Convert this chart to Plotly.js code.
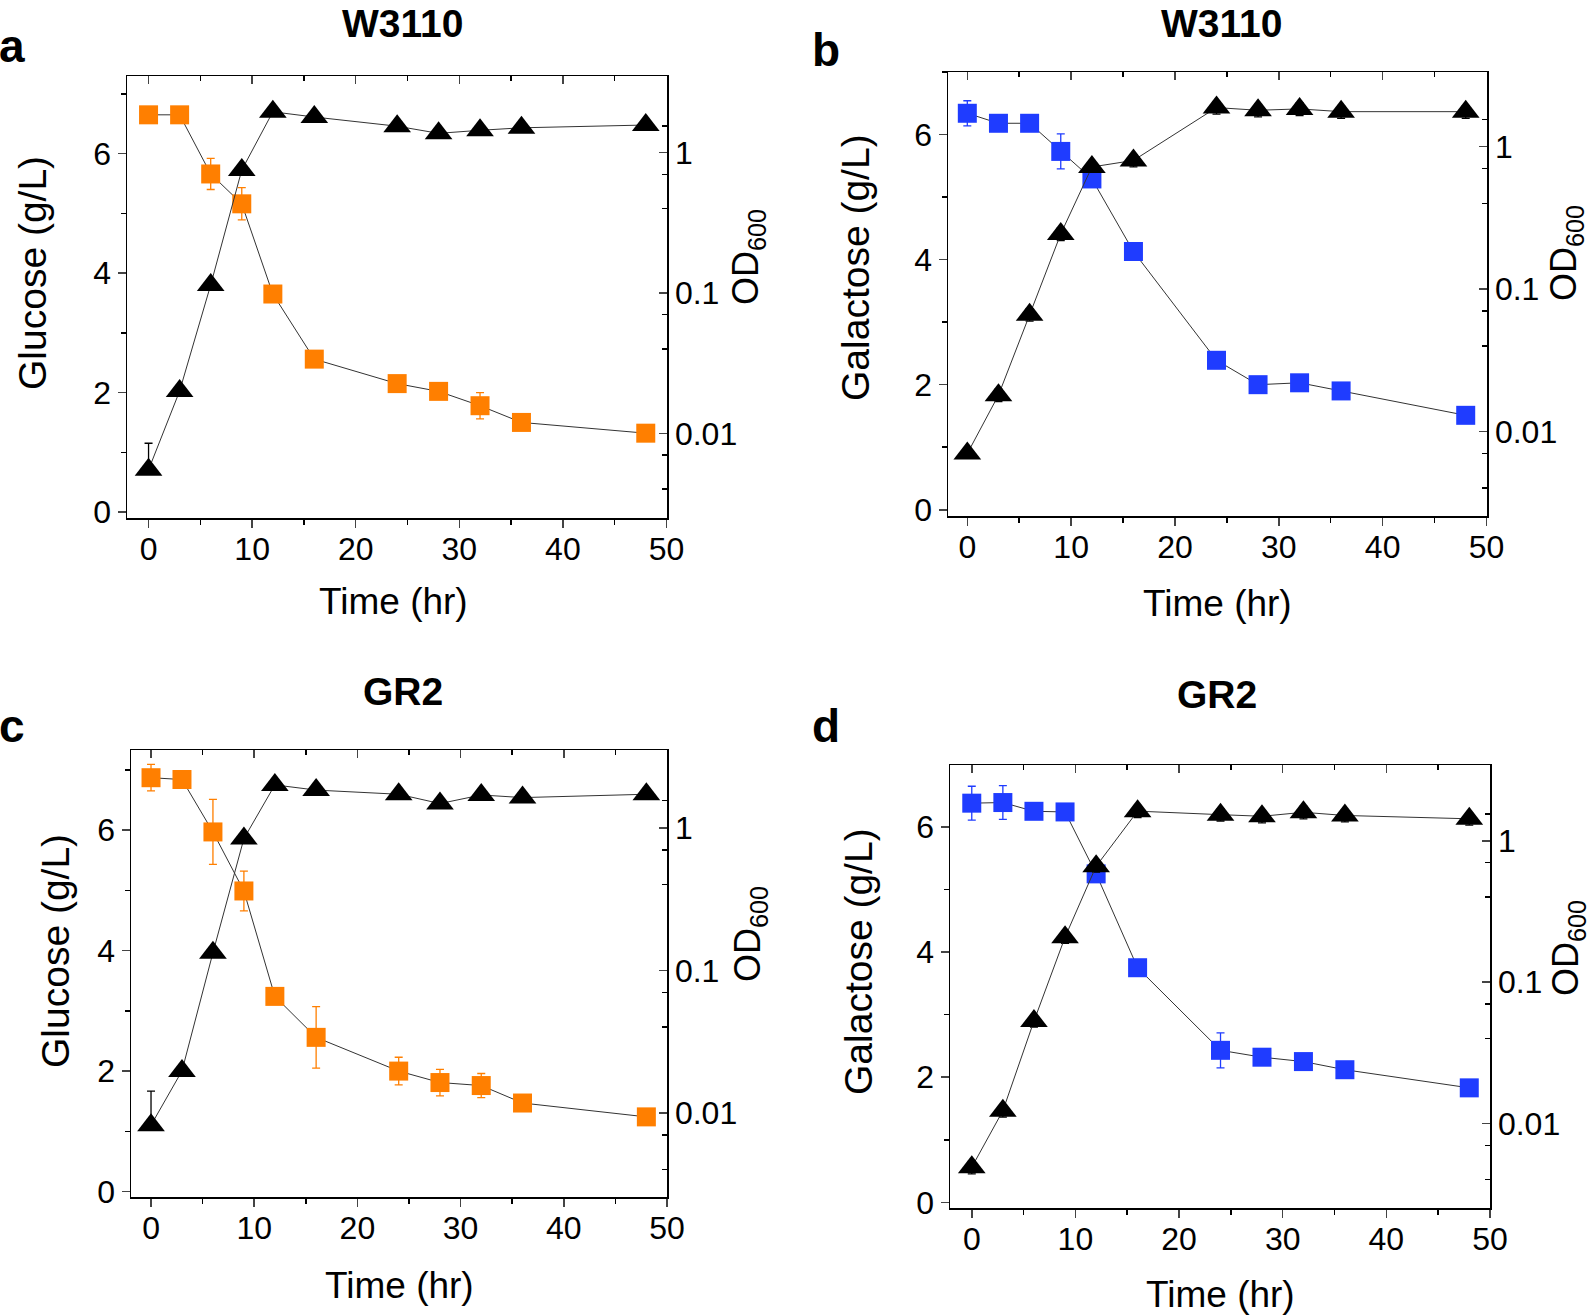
<!DOCTYPE html>
<html>
<head>
<meta charset="utf-8">
<script src="https://cdn.plot.ly/plotly-3.0.1.min.js"></script>
<style>
  html, body { margin: 0; padding: 0; background: #fff; }
  #chart { width: 1593px; height: 1316px; }
</style>
</head>
<body>
<div id="chart"></div>
<script>
// sampling times (hr), shared by all four panels
const hours = [0, 3, 6, 9, 12, 16, 24, 28, 32, 36, 48];

// a: W3110 on glucose
const glucoseW3110 = [6.65, 6.65, 5.66, 5.16, 3.65, 2.56, 2.15, 2.02, 1.78, 1.50, 1.32];
const glucoseW3110Err = [0.05, 0.05, 0.26, 0.27, 0.05, 0.07, 0.05, 0.05, 0.22, 0.08, 0.03];
const odGlucoseW3110 = [0.0055, 0.020, 0.114, 0.75, 1.95, 1.79, 1.54, 1.37, 1.44, 1.50, 1.57];
const odGlucoseW3110Up = [0.003, 0, 0, 0, 0, 0, 0, 0, 0, 0, 0];
const odGlucoseW3110Down = [0, 0, 0, 0, 0, 0, 0, 0, 0, 0, 0];

// b: W3110 on galactose
const galactoseW3110 = [6.34, 6.18, 6.18, 5.73, 5.29, 4.13, 2.39, 2.00, 2.03, 1.90, 1.51];
const galactoseW3110Err = [0.2, 0.05, 0.05, 0.28, 0.05, 0.05, 0.05, 0.05, 0.05, 0.05, 0.03];
const odGalactoseW3110 = [0.0070, 0.018, 0.066, 0.244, 0.72, 0.80, 1.88, 1.80, 1.84, 1.76, 1.76];
const odGalactoseW3110Err = [0, 0.0018, 0.0065, 0.025, 0.06, 0.08, 0.19, 0.18, 0.19, 0.18, 0.18];

// c: GR2 on glucose
const glucoseGR2 = [6.87, 6.84, 5.97, 4.99, 3.24, 2.56, 2.00, 1.81, 1.76, 1.47, 1.24];
const glucoseGR2Err = [0.22, 0.1, 0.54, 0.33, 0.06, 0.51, 0.23, 0.22, 0.2, 0.05, 0.05];
const odGlucoseGR2 = [0.0082, 0.0197, 0.133, 0.84, 2.0, 1.84, 1.72, 1.48, 1.70, 1.63, 1.72];
const odGlucoseGR2Up = [0.006, 0, 0, 0, 0, 0, 0, 0, 0, 0, 0];
const odGlucoseGR2Down = [0, 0, 0, 0, 0, 0, 0, 0, 0, 0, 0];

// d: GR2 on galactose
const galactoseGR2 = [6.38, 6.39, 6.25, 6.24, 5.25, 3.75, 2.43, 2.32, 2.25, 2.12, 1.83];
const galactoseGR2Err = [0.27, 0.27, 0.05, 0.05, 0.05, 0.05, 0.28, 0.05, 0.05, 0.05, 0.05];
const odGalactoseGR2 = [0.0049, 0.0123, 0.053, 0.208, 0.66, 1.62, 1.53, 1.49, 1.59, 1.51, 1.43];
const odGalactoseGR2Err = [0.0005, 0.0012, 0.005, 0.02, 0.06, 0.16, 0.15, 0.15, 0.16, 0.15, 0.14];

const W = 1593, H = 1316;
const ORANGE = '#ff7f00';
const BLUE = '#1f3cff';
const FONT = 'Liberation Sans, Arial, sans-serif';

const panels = [
  { letter: 'a', strain: 'W3110', sugarName: 'Glucose (g/L)', sugar: glucoseW3110, sugarErr: glucoseW3110Err,
    od: odGlucoseW3110, odUp: odGlucoseW3110Up, odDown: odGlucoseW3110Down, color: ORANGE,
    box: [127, 76, 667, 518], xr: [-2.08, 50.05], yr: [-0.1, 7.3], lr: [-2.603, 0.545],
    letterPos: [12, 46], titlePos: [403, 23], xtPos: [393, 602], ytPos: [33, 273], odPos: [748, 257] },
  { letter: 'b', strain: 'W3110', sugarName: 'Galactose (g/L)', sugar: galactoseW3110, sugarErr: galactoseW3110Err,
    od: odGalactoseW3110, odUp: odGalactoseW3110Err, odDown: odGalactoseW3110Err, color: BLUE,
    box: [948, 72, 1487, 516], xr: [-1.86, 50.05], yr: [-0.1, 7.0], lr: [-2.593, 0.524],
    letterPos: [826, 50], titlePos: [1221, 23], xtPos: [1217, 603], ytPos: [855, 268], odPos: [1566, 253] },
  { letter: 'c', strain: 'GR2', sugarName: 'Glucose (g/L)', sugar: glucoseGR2, sugarErr: glucoseGR2Err,
    od: odGlucoseGR2, odUp: odGlucoseGR2Up, odDown: odGlucoseGR2Down, color: ORANGE,
    box: [131, 750, 667, 1197], xr: [-1.94, 50.0], yr: [-0.09, 7.33], lr: [-2.59, 0.546],
    letterPos: [12, 726], titlePos: [403, 691], xtPos: [399, 1285], ytPos: [55, 951], odPos: [750, 934] },
  { letter: 'd', strain: 'GR2', sugarName: 'Galactose (g/L)', sugar: galactoseGR2, sugarErr: galactoseGR2Err,
    od: odGalactoseGR2, odUp: odGalactoseGR2Err, odDown: odGalactoseGR2Err, color: BLUE,
    box: [950, 765, 1490, 1208], xr: [-2.1, 50.0], yr: [-0.09, 6.99], lr: [-2.598, 0.536],
    letterPos: [826, 726], titlePos: [1217, 694], xtPos: [1220, 1294], ytPos: [858, 961], odPos: [1568, 948] }
];

const px = x => x / W;
const py = y => 1 - y / H;

const traces = [];
const layout = {
  width: W, height: H,
  margin: { l: 0, r: 0, t: 0, b: 0 },
  paper_bgcolor: '#fff', plot_bgcolor: 'rgba(0,0,0,0)',
  showlegend: false,
  font: { family: FONT, color: '#000' },
  annotations: []
};

const axisLine = { showline: true, linecolor: '#000', linewidth: 1.5, showgrid: false, zeroline: false };
const tickFont = { family: FONT, size: 32, color: '#000' };

panels.forEach((p, k) => {
  const i = k + 1;
  const xId = 'x' + i, yId = 'y' + i, topId = 'x' + (i + 4), logId = 'y' + (i + 4);
  const key = (a, n) => a + (n === 1 ? '' : n);
  const [x0, y0, x1, y1] = p.box;
  const xDom = [px(x0), px(x1)], yDom = [py(y1), py(y0)];

  layout[key('xaxis', i)] = Object.assign({}, axisLine, {
    domain: xDom, anchor: yId, range: p.xr,
    tickvals: [0, 10, 20, 30, 40, 50], ticks: 'outside', ticklen: 8, tickwidth: 1.5,
    minor: { dtick: 5, ticks: 'outside', ticklen: 5, tickwidth: 1.5, tickcolor: '#000' },
    tickfont: tickFont, ticklabelstandoff: -6
  });
  // top border with inward ticks
  layout[key('xaxis', i + 4)] = Object.assign({}, axisLine, {
    overlaying: xId, side: 'top', anchor: yId, range: p.xr,
    tickvals: [0, 10, 20, 30, 40, 50], ticks: 'inside', ticklen: 8, tickwidth: 1.5,
    minor: { dtick: 5, ticks: 'inside', ticklen: 5, tickwidth: 1.5, tickcolor: '#000' },
    showticklabels: false
  });
  layout[key('yaxis', i)] = Object.assign({}, axisLine, {
    domain: yDom, anchor: xId, range: p.yr,
    tickvals: [0, 2, 4, 6], ticks: 'outside', ticklen: 8, tickwidth: 1.5,
    minor: { dtick: 1, ticks: 'outside', ticklen: 5, tickwidth: 1.5, tickcolor: '#000' },
    tickfont: tickFont, ticklabelstandoff: 0
  });
  layout[key('yaxis', i + 4)] = Object.assign({}, axisLine, {
    overlaying: yId, side: 'right', anchor: xId, type: 'log', range: p.lr,
    tickvals: [0.01, 0.1, 1], ticktext: ['0.01', '0.1', '1'],
    ticks: 'inside', ticklen: 8, tickwidth: 1.5,
    minor: { tickvals: [0.004, 0.007, 0.04, 0.07, 0.4, 0.7, 1.55], ticks: 'inside', ticklen: 5, tickwidth: 1.5, tickcolor: '#000' },
    tickfont: tickFont, ticklabelstandoff: 0
  });

  // empty trace so the top axis is drawn
  traces.push({
    x: hours, y: p.sugar, xaxis: topId, yaxis: yId,
    type: 'scatter', mode: 'none', hoverinfo: 'skip'
  });
  // sugar (left axis)
  traces.push({
    x: hours, y: p.sugar, xaxis: xId, yaxis: yId,
    type: 'scatter', mode: 'lines+markers',
    line: { color: '#333', width: 1 },
    marker: { symbol: 'square', size: 19, color: p.color },
    error_y: { type: 'data', array: p.sugarErr, visible: true, color: p.color, thickness: 1.3, width: 4 }
  });
  // OD600 (right log axis)
  traces.push({
    x: hours, y: p.od, xaxis: xId, yaxis: logId,
    type: 'scatter', mode: 'lines+markers',
    line: { color: '#333', width: 1 },
    marker: { symbol: 'triangle-up', size: 24, color: '#000' },
    error_y: { type: 'data', array: p.odUp, arrayminus: p.odDown, visible: true, color: '#000', thickness: 1.3, width: 4 }
  });

  const ann = layout.annotations;
  ann.push({ text: '<b>' + p.letter + '</b>', x: px(p.letterPos[0]), y: py(p.letterPos[1]), xref: 'paper', yref: 'paper',
    showarrow: false, xanchor: 'center', yanchor: 'middle', font: { family: FONT, size: 46, color: '#000' } });
  ann.push({ text: '<b>' + p.strain + '</b>', x: px(p.titlePos[0]), y: py(p.titlePos[1]), xref: 'paper', yref: 'paper',
    showarrow: false, xanchor: 'center', yanchor: 'middle', font: { family: FONT, size: 39, color: '#000' } });
  ann.push({ text: 'Time (hr)', x: px(p.xtPos[0]), y: py(p.xtPos[1]), xref: 'paper', yref: 'paper',
    showarrow: false, xanchor: 'center', yanchor: 'middle', font: { family: FONT, size: 37, color: '#000' } });
  ann.push({ text: p.sugarName, x: px(p.ytPos[0]), y: py(p.ytPos[1]), xref: 'paper', yref: 'paper', textangle: -90,
    showarrow: false, xanchor: 'center', yanchor: 'middle', font: { family: FONT, size: 39, color: '#000' } });
  ann.push({ text: 'OD<sub>600</sub>', x: px(p.odPos[0]), y: py(p.odPos[1]), xref: 'paper', yref: 'paper', textangle: -90,
    showarrow: false, xanchor: 'center', yanchor: 'middle', font: { family: FONT, size: 36, color: '#000' } });
});

Plotly.newPlot('chart', traces, layout, { staticPlot: true });
</script>
</body>
</html>
